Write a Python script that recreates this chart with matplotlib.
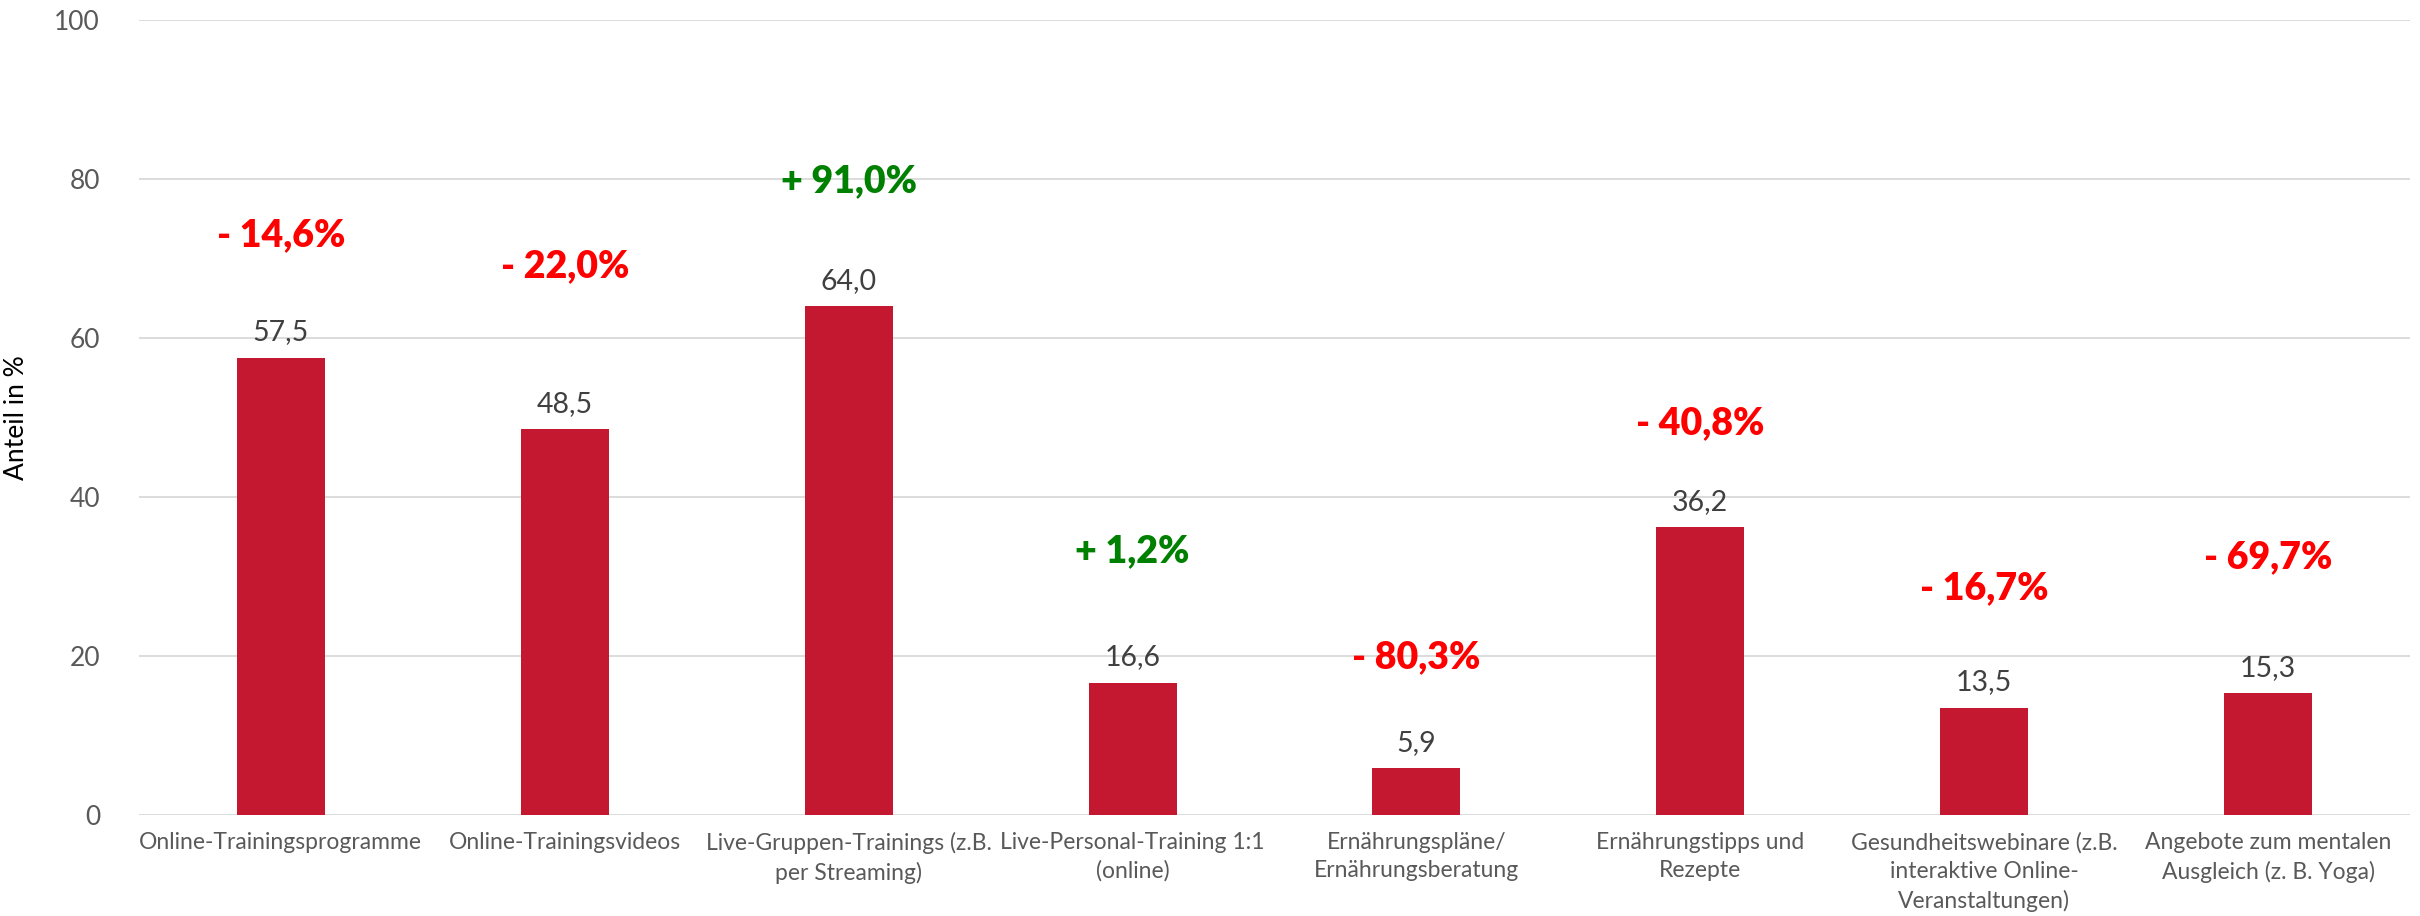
import matplotlib
matplotlib.use("Agg")
import matplotlib.pyplot as plt

plt.rcParams['font.family'] = ['Lato', 'DejaVu Sans']

# Angebote und Anteil der Nutzung in %
categories = ['Online-Trainingsprogramme', 'Online-Trainingsvideos',
              'Live-Gruppen-Trainings (z.B.\nper Streaming)',
              'Live-Personal-Training 1:1\n(online)',
              'Ernährungspläne/\nErnährungsberatung',
              'Ernährungstipps und\nRezepte',
              'Gesundheitswebinare (z.B.\ninteraktive Online-\nVeranstaltungen)',
              'Angebote zum mentalen\nAusgleich (z. B. Yoga)']
values = [57.5, 48.5, 64.0, 16.6, 5.9, 36.2, 13.5, 15.3]
changes = [-14.6, -22.0, 91.0, 1.2, -80.3, -40.8, -16.7, -69.7]

# height of the change labels (data units)
change_label_y = [73.0, 69.1, 79.8, 33.2, 19.8, 49.3, 28.5, 32.4]

fig = plt.figure(figsize=(24.2, 9.16), dpi=100)
ax = fig.add_axes([0.0574, 0.1103, 0.9385, 0.8677])

x = range(len(values))
bars = ax.bar(x, values, width=0.31, color='#C3182F', zorder=3)

ax.set_ylim(0, 100)
ax.set_xlim(-0.5, len(values) - 0.5)
ax.set_yticks(range(0, 101, 20))
ax.yaxis.grid(True, color='#D9D9D9', linewidth=1.3, zorder=0)
for s in ['top', 'right', 'left', 'bottom']:
    ax.spines[s].set_visible(False)
ax.tick_params(axis='both', length=0)
ax.tick_params(axis='y', labelsize=19, labelcolor='#595959', pad=28)
ax.set_xticks(list(x))
ax.set_xticklabels(categories, fontsize=16.5, color='#595959', linespacing=1.45,
                   va='top')
ax.tick_params(axis='x', pad=12)
ax.set_ylabel('Anteil in %', fontsize=19, color='black', labelpad=18)

# values above the bars
for b, v in zip(bars, values):
    ax.annotate(f'{v:.1f}'.replace('.', ','),
                (b.get_x() + b.get_width() / 2, v),
                xytext=(0, 9), textcoords='offset points',
                ha='center', va='bottom', fontsize=20.5, color='#404040')

# change compared to previous year
for i, (c, y) in enumerate(zip(changes, change_label_y)):
    sign = '+' if c > 0 else '-'
    txt = f'{sign} {abs(c):.1f}%'.replace('.', ',')
    ax.text(i, y, txt, ha='center', va='center', fontsize=27,
            fontweight='heavy', color='#008000' if c > 0 else '#FF0000')

plt.savefig('out.png', dpi=100)
